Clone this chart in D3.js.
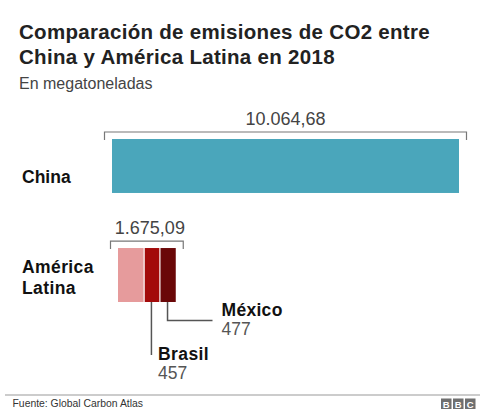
<!DOCTYPE html>
<html>
<head>
<meta charset="utf-8">
<script src="https://cdn.jsdelivr.net/npm/d3@7"></script>
<style>
  html, body { margin: 0; padding: 0; background: #fff; }
  svg { display: block; font-family: "Liberation Sans", Arial, Helvetica, sans-serif; }
</style>
</head>
<body>
<svg id="chart" width="480" height="409"></svg>
<script>
// ---- Data ----
const categories = ["China", "América Latina"];
const totals = [10064.68, 1675.09];
const totalLabels = ["10.064,68", "1.675,09"];
const latamParts = ["Resto", "Brasil", "México"];
const latamValues = [741.09, 457, 477];
const latamValueLabels = ["", "457", "477"];
const chinaColor = "#4aa6bb";
const latamColors = ["#e69b9c", "#a30a0a", "#6a0708"];

const svg = d3.select("#chart");

// Title & subtitle
svg.append("text").attr("x", 19).attr("y", 38.5)
  .attr("font-size", 20.5).attr("font-weight", "bold").attr("fill", "#222")
  .attr("letter-spacing", 0.3)
  .text("Comparación de emisiones de CO2 entre");
svg.append("text").attr("x", 19).attr("y", 63.5)
  .attr("font-size", 20.5).attr("font-weight", "bold").attr("fill", "#222")
  .attr("letter-spacing", 0.3)
  .text("China y América Latina en 2018");
svg.append("text").attr("x", 19).attr("y", 88.5)
  .attr("font-size", 16).attr("fill", "#444")
  .text("En megatoneladas");

// Scales
const x = d3.scaleLinear().domain([0, totals[0]]).range([112, 459]);
const y = d3.scaleBand().domain(categories).range([139, 302]).paddingInner(0.505).paddingOuter(0);
const offsets = [0, 6]; // horizontal shift of each row's group

// Category labels
svg.append("text").attr("x", 22).attr("y", 182.5)
  .attr("font-size", 17.5).attr("font-weight", "bold").attr("fill", "#111")
  .text(categories[0]);
const lat = svg.append("text").attr("x", 22).attr("font-size", 17.5)
  .attr("font-weight", "bold").attr("fill", "#111").attr("letter-spacing", 0.4);
lat.append("tspan").attr("x", 22).attr("y", 273).text("América");
lat.append("tspan").attr("x", 22).attr("y", 294).text("Latina");

// China bar
svg.append("rect")
  .attr("x", x(0)).attr("y", y(categories[0]))
  .attr("width", x(totals[0]) - x(0)).attr("height", y.bandwidth())
  .attr("fill", chinaColor);

// LatAm stacked bars
const gL = svg.append("g").attr("transform", `translate(${offsets[1]},0)`);
let cum = 0;
const segs = latamValues.map((v, i) => {
  const s = { name: latamParts[i], x0: cum, x1: cum + v, color: latamColors[i], label: latamValueLabels[i] };
  cum += v;
  return s;
});
gL.selectAll("rect.latam").data(segs).enter().append("rect")
  .attr("class", "latam")
  .attr("x", d => x(d.x0) + (d.x0 > 0 ? 1.2 : 0))
  .attr("y", y(categories[1]))
  .attr("width", d => x(d.x1) - x(d.x0) - (d.x0 > 0 ? 1.2 : 0))
  .attr("height", y.bandwidth())
  .attr("fill", d => d.color);

// Brackets with totals
categories.forEach((c, i) => {
  const top = y(c);
  const bx0 = x(0) + offsets[i] - 7.5, bx1 = x(totals[i]) + offsets[i] + 7.5;
  const by = top - 7;
  svg.append("path")
    .attr("d", `M${bx0},${by + 8}V${by}H${bx1}V${by + 8}`)
    .attr("fill", "none").attr("stroke", "#777").attr("stroke-width", 1.2);
  svg.append("text")
    .attr("x", (bx0 + bx1) / 2 + (i === 1 ? 3 : 0)).attr("y", top - 14)
    .attr("text-anchor", "middle").attr("font-size", 18).attr("fill", "#444")
    .text(totalLabels[i]);
});

// Leader lines
const barBottom = y(categories[1]) + y.bandwidth();
const brasil = segs[1], mexico = segs[2];
const bxm = (x(brasil.x0) + x(brasil.x1)) / 2 + offsets[1];
const mxm = (x(mexico.x0) + x(mexico.x1)) / 2 + offsets[1];
svg.append("path")
  .attr("d", `M${bxm},${barBottom}V355`)
  .attr("fill", "none").attr("stroke", "#555").attr("stroke-width", 1.5);
svg.append("path")
  .attr("d", `M${mxm},${barBottom}V320.5H212.5`)
  .attr("fill", "none").attr("stroke", "#555").attr("stroke-width", 1.5);

svg.append("text").attr("x", 221.5).attr("y", 316).attr("letter-spacing", 0.3)
  .attr("font-size", 17.5).attr("font-weight", "bold").attr("fill", "#111").text(mexico.name);
svg.append("text").attr("x", 221.5).attr("y", 335)
  .attr("font-size", 17.5).attr("fill", "#555").text(mexico.label);
svg.append("text").attr("x", 158).attr("y", 360).attr("letter-spacing", 0.4)
  .attr("font-size", 17.5).attr("font-weight", "bold").attr("fill", "#111").text(brasil.name);
svg.append("text").attr("x", 158).attr("y", 379)
  .attr("font-size", 17.5).attr("fill", "#555").text(brasil.label);

// Footer
svg.append("line").attr("x1", 5).attr("x2", 480).attr("y1", 395).attr("y2", 395)
  .attr("stroke", "#999").attr("stroke-width", 1);
svg.append("text").attr("x", 12.5).attr("y", 407)
  .attr("font-size", 10.4).attr("fill", "#333").text("Fuente: Global Carbon Atlas");

const bbc = ["B", "B", "C"];
bbc.forEach((ch, i) => {
  const bx = 441 + i * 12;
  svg.append("rect").attr("x", bx).attr("y", 398.5).attr("width", 10.5).attr("height", 10.5)
    .attr("fill", "#6f6f6f");
  svg.append("text").attr("x", bx + 5.25).attr("y", 407.5).attr("text-anchor", "middle")
    .attr("font-size", 9.5).attr("font-weight", "bold").attr("fill", "#fff").text(ch);
});
</script>
</body>
</html>
